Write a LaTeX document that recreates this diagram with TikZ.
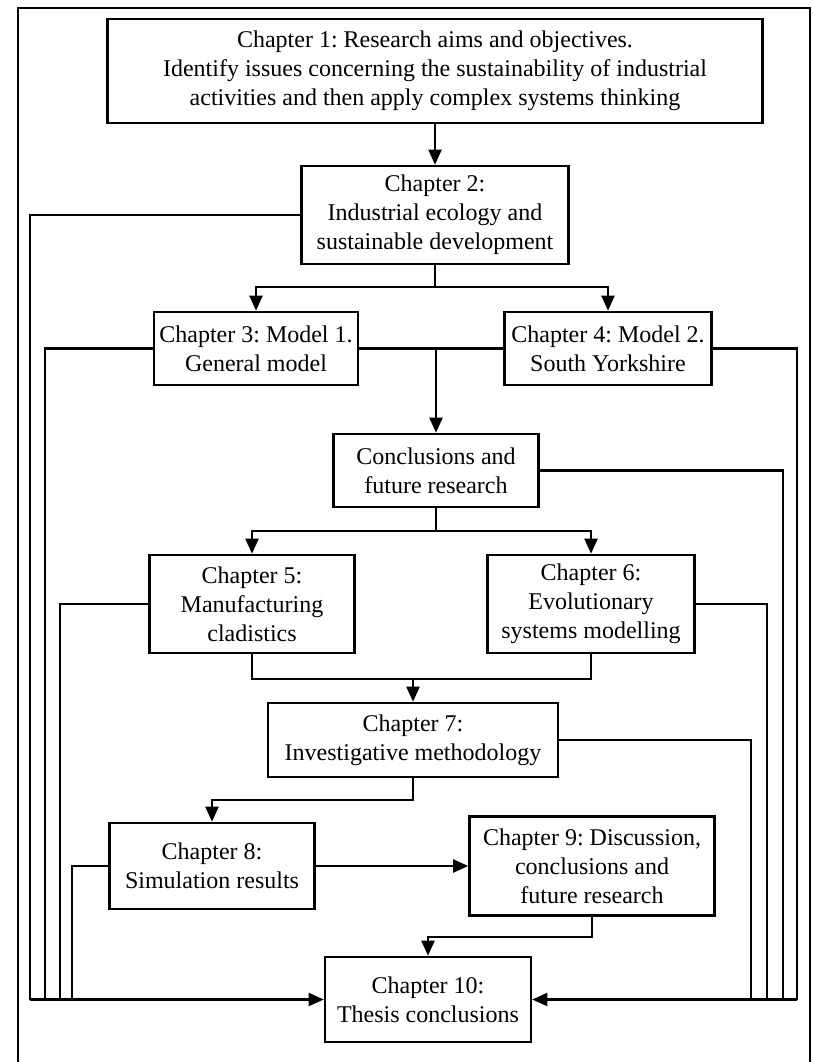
\documentclass[tikz,border=0pt]{standalone}
\usepackage{fontspec}
\setmainfont{Liberation Serif}
\usetikzlibrary{arrows.meta}
\frenchspacing
\begin{document}
\begin{tikzpicture}[x=1pt,y=-1pt,
  box/.style={draw, line width=2.6pt, align=center, inner sep=0pt,
    font=\fontsize{24}{29}\selectfont},
  conn/.style={line width=2.1pt},
  arr/.style={conn, -{Triangle[length=15pt,width=13pt]}}]
\useasboundingbox (0,0) rectangle (813,1062);

% outer frame
\draw[line width=2pt] (18,1062) -- (18,8) -- (810,8) -- (810,1062);

% chapter boxes
\node[box, minimum width=655, minimum height=104] (b1) at (435,71)
  {Chapter 1: Research aims and objectives.\\Identify issues concerning the sustainability of industrial\\activities and then apply complex systems thinking};
\node[box, minimum width=267, minimum height=98] (b2) at (435,215)
  {Chapter 2:\\Industrial ecology and\\sustainable development};
\node[box, minimum width=204, minimum height=73] (b3) at (256,348.5)
  {Chapter 3: Model 1.\\General model};
\node[box, minimum width=207, minimum height=73] (b4) at (608,348.5)
  {Chapter 4: Model 2.\\South Yorkshire};
\node[box, minimum width=205, minimum height=73] (bc) at (436,470.5)
  {Conclusions and\\future research};
\node[box, minimum width=205, minimum height=98] (b5) at (252,604)
  {Chapter 5:\\Manufacturing\\cladistics};
\node[box, minimum width=207, minimum height=98] (b6) at (591,604)
  {Chapter 6:\\Evolutionary\\systems modelling};
\node[box, minimum width=290, minimum height=74] (b7) at (413,740)
  {Chapter 7:\\Investigative methodology};
\node[box, minimum width=205, minimum height=86] (b8) at (212,866)
  {Chapter 8:\\Simulation results};
\node[box, minimum width=245, minimum height=99] (b9) at (592,866)
  {Chapter 9: Discussion,\\conclusions and\\future research};
\node[box, minimum width=206, minimum height=85] (b10) at (428,999.5)
  {Chapter 10:\\Thesis conclusions};

% junction points
\coordinate (s2) at (435,287);
\coordinate (sc) at (436,531);
\coordinate (j56) at (413,679);
\coordinate (lbA) at (30,999.5);
\coordinate (lbB) at (45,999.5);
\coordinate (lbC) at (60,999.5);
\coordinate (lbD) at (72,999.5);
\coordinate (rbA) at (797,999.5);
\coordinate (rbB) at (783,999.5);
\coordinate (rbC) at (767,999.5);
\coordinate (rbD) at (751,999.5);

% main flow
\draw[arr] (b1.south -| b2.north) -- (b2.north);
\draw[conn] (b2.south) -- (s2);
\draw[arr] (s2) -| (b3.north);
\draw[arr] (s2) -| (b4.north);
\draw[conn] (b3.east) -- (b4.west);
\draw[arr] (bc.north |- b3.east) -- (bc.north);
\draw[conn] (bc.south) -- (sc);
\draw[arr] (sc) -| (b5.north);
\draw[arr] (sc) -| (b6.north);
\draw[conn] (b5.south) |- (j56) -| (b6.south);
\draw[arr] (j56) -- (b7.north);
\draw[arr] (b7.south) -- ++(0,22) -| (b8.north);
\draw[arr] (b8.east) -- (b8.east -| b9.west);
\draw[arr] (b9.south) -- ++(0,20) -| (b10.north);

% feeds into the thesis conclusions, left side
\draw[conn] (b2.west) -| (lbA);
\draw[conn] (b3.west) -| (lbB);
\draw[conn] (b5.west) -| (lbC);
\draw[conn] (b8.west) -| (lbD);
\draw[arr] (lbA) -- (b10.west);

% feeds into the thesis conclusions, right side
\draw[conn] (b4.east) -| (rbA);
\draw[conn] (bc.east) -| (rbB);
\draw[conn] (b6.east) -| (rbC);
\draw[conn] (b7.east) -| (rbD);
\draw[arr] (rbA) -- (b10.east);
\end{tikzpicture}
\end{document}
